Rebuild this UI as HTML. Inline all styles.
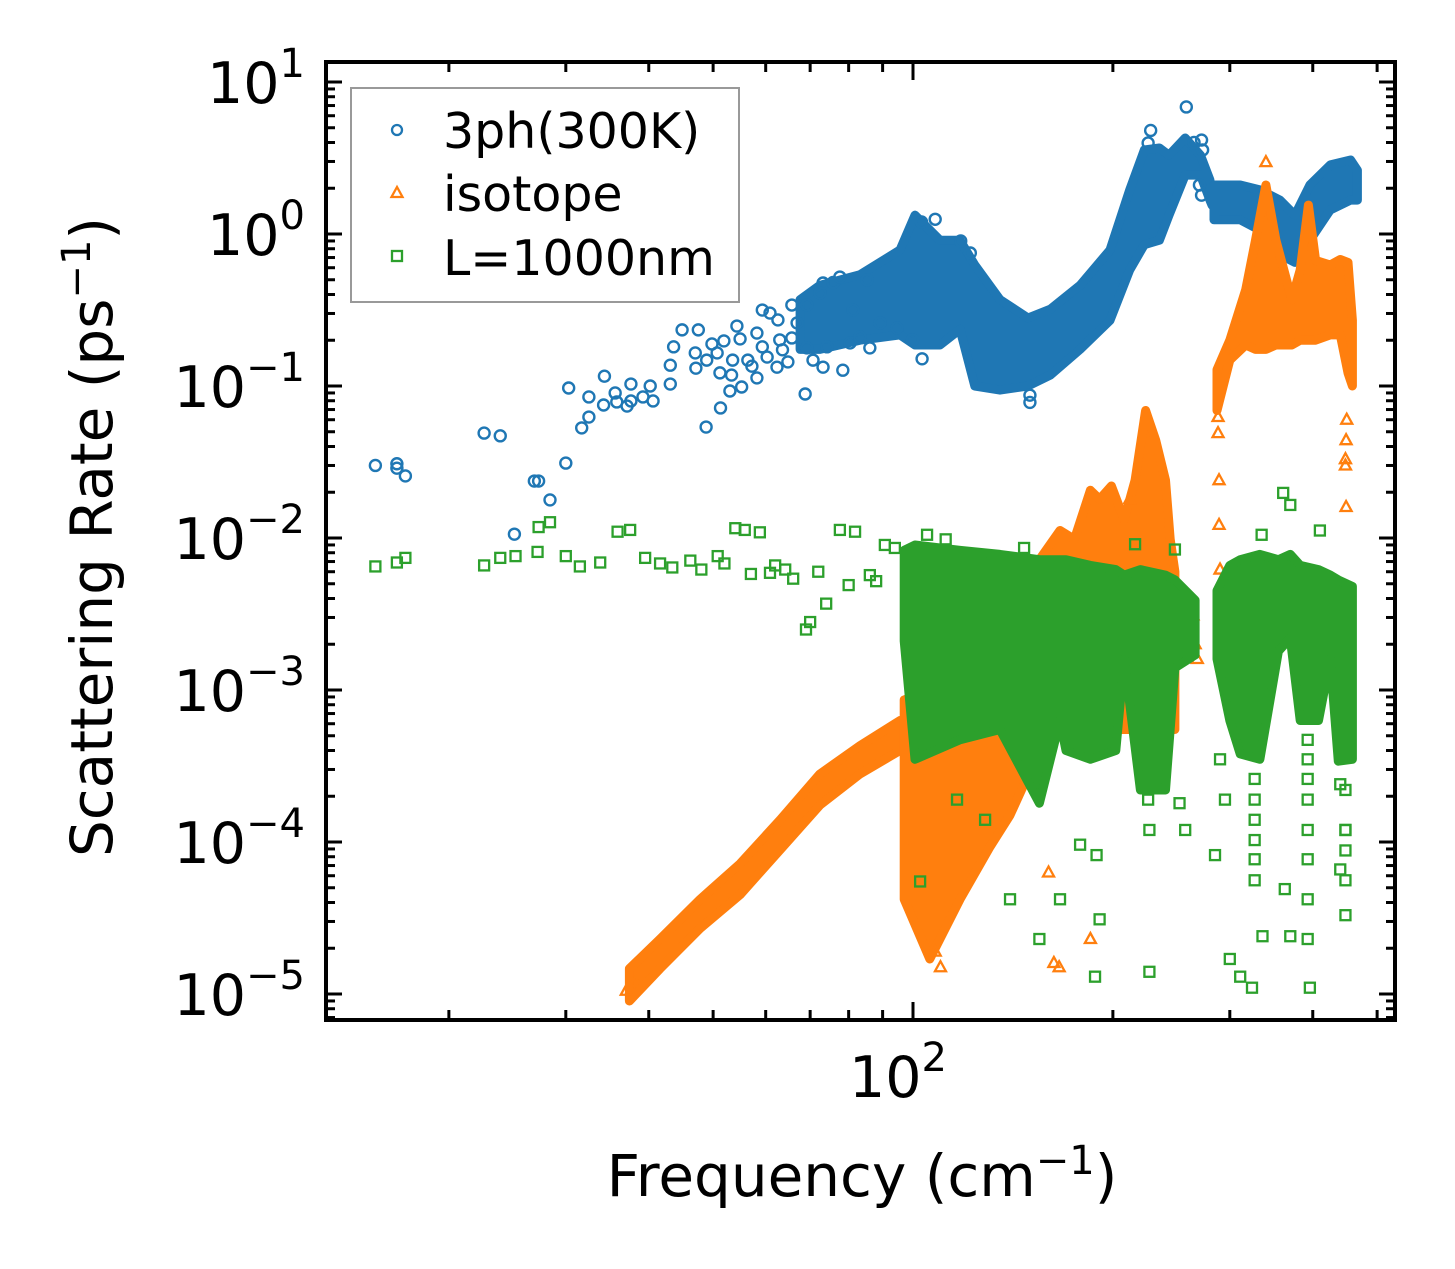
<!DOCTYPE html>
<html><head><meta charset="utf-8"><style>
html,body{margin:0;padding:0;background:#fff;}
svg{display:block;font-family:"DejaVu Sans","Liberation Sans",sans-serif;}
</style></head><body>
<svg id="chart" width="1455" height="1269" viewBox="0 0 1455 1269" xmlns="http://www.w3.org/2000/svg">
<defs><clipPath id="plotclip"><rect x="326" y="62" width="1069" height="958"/></clipPath></defs>
<rect width="1455" height="1269" fill="#fff"/>
<g id="data" clip-path="url(#plotclip)"></g>
<g id="axes"></g>
<g>
<rect x="351" y="88" width="388" height="214" fill="#fff" fill-opacity="0.85" stroke="#999" stroke-width="2"/>
<circle cx="397" cy="130" r="5" fill="none" stroke="#1f77b4" stroke-width="2.3"/>
<text x="443" y="148" font-size="49" fill="#000">3ph(300K)</text>
<polygon points="397,187 391.5,197 402.5,197" fill="none" stroke="#ff7f0e" stroke-width="2.3"/>
<text x="443" y="211" font-size="49" fill="#000">isotope</text>
<rect x="392" y="251" width="10" height="10" fill="none" stroke="#2ca02c" stroke-width="2.3"/>
<text x="443" y="275" font-size="49" fill="#000">L=1000nm</text>
</g>
<text transform="translate(112,537) rotate(-90)" text-anchor="middle" font-size="58" fill="#000">Scattering Rate (ps<tspan dy="-22" font-size="40">−1</tspan><tspan dy="22">)</tspan></text>
<text x="862" y="1196" text-anchor="middle" font-size="58" fill="#000">Frequency (cm<tspan dy="-22" font-size="40">−1</tspan><tspan dy="22">)</tspan></text>
</svg>
<script>
// ---------- data ----------
const blueFreq = [15.5,16.7,16.7,17.2,22.6,23.9,25.1,26.9,27.3,28.4,30.0,30.3,32.5,31.7,32.5,34.3,34.2,35.6,35.8,37.1,37.6,37.6,39.2,40.2,40.6,43.1,43.1,43.6,44.9,47.5,47.0,47.1,48.9,48.8,49.8,50.7,51.2,51.3,51.9,53.0,53.3,53.5,54.3,54.9,55.2,56.4,57.2,58.2,58.2,59.3,59.3,60.3,60.9,62.4,62.6,63.0,63.6,64.8,65.7,65.7,66.9,68.8,69.2,69.2,70.7,72.4,73.2,74.2,73.2,75.8,77.6,78.4,80.4,83.2,86.1,81.2,85.3,89.2,94.6,103.2,99.8,150,150,258,228,226,265,272,273,270,272,103,108,118,122];
const blueRate = [0.030,0.0308,0.0288,0.0256,0.049,0.047,0.0106,0.0237,0.0237,0.0178,0.0311,0.097,0.0847,0.053,0.0625,0.116,0.075,0.09,0.0785,0.0738,0.103,0.0797,0.0847,0.1,0.0797,0.103,0.137,0.181,0.234,0.234,0.165,0.131,0.148,0.0537,0.189,0.165,0.122,0.0717,0.198,0.0927,0.118,0.148,0.248,0.204,0.0985,0.148,0.135,0.223,0.113,0.316,0.181,0.155,0.302,0.133,0.272,0.201,0.173,0.144,0.341,0.207,0.26,0.0886,0.341,0.178,0.148,0.409,0.133,0.181,0.476,0.48,0.521,0.127,0.192,0.21,0.178,0.316,0.498,0.26,0.241,0.151,0.201,0.078,0.087,6.85,4.8,3.97,4.0,4.15,3.57,2.1,1.8,1.2,1.25,0.9,0.75];
const blueBand1Freq = [67.6,72.4,83.2,95.6,100.7,109.8,117.7,123.9,135.2,149,161,178.5,198,212,223,235,243,257,271,280,282];
const blueBand1Lo = [0.174,0.174,0.2,0.217,0.186,0.186,0.236,0.1,0.094,0.1,0.118,0.174,0.27,0.58,0.85,0.91,1.33,2.44,2.44,1.67,1.55];
const blueBand1Hi = [0.37,0.46,0.54,0.785,1.33,0.91,0.91,0.625,0.37,0.28,0.32,0.46,0.785,1.95,3.57,3.68,3.3,4.28,3.3,2.27,1.8];
const blueBand2Freq = [284,311,333,357,376,396,425,456,467];
const blueBand2Lo = [1.24,1.24,1.06,0.73,0.65,0.91,1.44,1.67,1.67];
const blueBand2Hi = [2.1,2.1,1.95,1.67,1.33,2.1,2.85,3.07,2.63];

const orangeFreq = [288,288,289,289,290,291,450,449,448,448,449,452,340,212,160,163,166,185,110,108,264,266,268,257,37.0,38.2];
const orangeRate = [0.0625,0.049,0.024,0.0122,0.0062,0.0028,0.06,0.044,0.033,0.03,0.016,0.0039,2.97,0.018,6.3e-5,1.6e-5,1.5e-5,2.3e-5,1.5e-5,1.9e-5,0.0031,0.0020,0.0016,0.0039,1.05e-5,1.2e-5];
const orangeBand1Freq = [37.4,41.6,47.8,54.9,63.1,72.4,83.2,95.6];
const orangeBand1Lo = [0.9e-5,1.47e-5,2.7e-5,4.5e-5,8.9e-5,1.75e-4,2.8e-4,4.0e-4];
const orangeBand1Hi = [1.47e-5,2.3e-5,4.2e-5,7.2e-5,1.4e-4,2.8e-4,4.3e-4,6.3e-4];
const orangeBand2Freq = [97,106,117.7,130.6,140,155,166.5,175,185,191,199,208,216,224,232,240,244,248];
const orangeBand2Lo = [4.2e-5,1.7e-5,4.2e-5,9.3e-5,1.5e-4,4.0e-4,5.5e-4,5.5e-4,5.5e-4,5.5e-4,5.5e-4,5.5e-4,5.5e-4,6.3e-4,8.6e-4,8.6e-4,6.3e-4,5.5e-4];
const orangeBand2Hi = [8.6e-4,1.0e-3,1.58e-3,2.1e-3,5.3e-3,7.2e-3,0.0112,0.0098,0.0206,0.0180,0.022,0.0132,0.024,0.069,0.044,0.024,0.0098,0.0060];
const orangeBand3Freq = [287,300,317,328,340,352,372,383,394,404,425,440,452,459];
const orangeBand3Lo = [0.069,0.148,0.186,0.174,0.174,0.186,0.186,0.2,0.2,0.2,0.217,0.217,0.122,0.1];
const orangeBand3Hi = [0.128,0.2,0.43,0.91,2.1,0.91,0.37,0.58,1.55,0.67,0.625,0.68,0.65,0.27];

const greenFreq = [15.5,16.7,17.2,22.6,23.9,25.2,27.2,27.3,28.4,30,31.5,33.8,35.9,37.5,39.5,41.6,43.4,46.2,50.8,54,55.8,58.8,60.9,64.2,69,70,74,77.6,81.8,86.1,90.7,93.9,48,52,57,62,66,72,80,88,
 102.5,116.5,128.4,140,155,166.5,178.5,189,191,188,227,226,227,285,300,311,324,336,363,370,396,440,448,361,370,248,216,147,290,295,440,448,252,257,
 327,327,327,327,327,327,393,393,393,393,393,393,393,393,448,448,448,448,335,410,105,112];
const greenRate = [0.0065,0.0069,0.0074,0.0066,0.0074,0.0076,0.0081,0.0118,0.0127,0.0076,0.0065,0.0069,0.011,0.0113,0.0074,0.0068,0.0064,0.0071,0.0076,0.0116,0.0113,0.0109,0.0059,0.0062,0.0025,0.0028,0.0037,0.0113,0.011,0.0057,0.0090,0.0086,0.0062,0.0068,0.0058,0.0066,0.0054,0.0060,0.0049,0.0052,
 5.5e-5,1.9e-4,1.4e-4,4.2e-5,2.3e-5,4.2e-5,9.6e-5,8.2e-5,3.1e-5,1.3e-5,1.4e-5,1.9e-4,1.2e-4,8.2e-5,1.7e-5,1.3e-5,1.1e-5,2.4e-5,4.9e-5,2.4e-5,1.1e-5,6.6e-5,3.3e-5,0.0198,0.0165,0.0084,0.0091,0.0086,3.5e-4,1.9e-4,2.4e-4,1.2e-4,1.8e-4,1.2e-4,
 2.6e-4,1.9e-4,1.4e-4,1.03e-4,7.7e-5,5.6e-5,4.7e-4,3.5e-4,2.6e-4,1.9e-4,1.2e-4,7.7e-5,4.2e-5,2.3e-5,2.2e-4,1.2e-4,8.8e-5,5.6e-5,0.0105,0.0112,0.0105,0.0098];
const greenBand1Freq = [97,100.7,117.7,135.2,155,166.5,170,185,202,208,220,240,248,266];
const greenBand1Lo = [0.0021,3.5e-4,4.7e-4,5.5e-4,1.8e-4,6.3e-4,4.0e-4,3.5e-4,4.0e-4,1.6e-3,2.2e-4,2.2e-4,1.4e-3,1.7e-3];
const greenBand1Hi = [0.0083,0.0090,0.0083,0.0078,0.0072,0.0072,0.0072,0.0066,0.0062,0.0057,0.0062,0.0057,0.0053,0.0039];
const greenBand2Freq = [287,300,311,333,355,370,383,408,425,437,459];
const greenBand2Lo = [1.6e-3,6.3e-4,3.8e-4,3.5e-4,1.8e-3,2.2e-3,6.3e-4,6.3e-4,1.6e-3,3.4e-4,3.5e-4];
const greenBand2Hi = [0.0045,0.0066,0.0072,0.0078,0.0072,0.0078,0.0066,0.0062,0.0057,0.0053,0.0048];

const yTickExps = [1,0,-1,-2,-3,-4,-5];
const xMinorTicks = [20,30,40,50,60,70,80,90,200,300,400,500];
const xMajorTicks = [100];

// ---------- axes ----------
const X0=326,X1=1395,Y0=62,Y1=1020;
function X(f){return 913+664*Math.log10(f/100);}
function Y(r){return 234-152*Math.log10(r);}
const NS="http://www.w3.org/2000/svg";
function mk(tag,attrs,parent){const e=document.createElementNS(NS,tag);for(const k in attrs)e.setAttribute(k,attrs[k]);parent.appendChild(e);return e;}
const data=document.getElementById('data'), axes=document.getElementById('axes');
const C={b:'#1f77b4',o:'#ff7f0e',g:'#2ca02c'};

function band(fr,lo,hi,col,name){
  const pts=[];
  for(let i=0;i<fr.length;i++)pts.push(X(fr[i]).toFixed(1)+','+Y(hi[i]).toFixed(1));
  for(let i=fr.length-1;i>=0;i--)pts.push(X(fr[i]).toFixed(1)+','+Y(lo[i]).toFixed(1));
  const p=mk('polygon',{points:pts.join(' '),fill:col,stroke:col,'stroke-width':9,'stroke-linejoin':'round'},data);
  
  
}
function circ(f,r,name){const e=mk('circle',{cx:X(f),cy:Y(r),r:5.5,fill:'none',stroke:C.b,'stroke-width':2.4},data);
  
  }
function tri(f,r,name){const x=X(f),y=Y(r);const e=mk('polygon',{points:`${x},${y-6} ${x-5.5},${y+4} ${x+5.5},${y+4}`,fill:'none',stroke:C.o,'stroke-width':2.3},data);
  
  }
function sq(f,r,name){const e=mk('rect',{x:X(f)-5,y:Y(r)-5,width:10,height:10,fill:'none',stroke:C.g,'stroke-width':2.3},data);
  
  }

band(blueBand1Freq,blueBand1Lo,blueBand1Hi,C.b,'3ph-dense-band-1');
band(blueBand2Freq,blueBand2Lo,blueBand2Hi,C.b,'3ph-dense-band-2');
for(let i=0;i<blueFreq.length;i++)circ(blueFreq[i],blueRate[i],'3ph-point');
band(orangeBand1Freq,orangeBand1Lo,orangeBand1Hi,C.o,'isotope-dense-band-1');
band(orangeBand2Freq,orangeBand2Lo,orangeBand2Hi,C.o,'isotope-dense-band-2');
band(orangeBand3Freq,orangeBand3Lo,orangeBand3Hi,C.o,'isotope-dense-band-3');
for(let i=0;i<orangeFreq.length;i++)tri(orangeFreq[i],orangeRate[i],'isotope-point');
band(greenBand1Freq,greenBand1Lo,greenBand1Hi,C.g,'boundary-dense-band-1');
band(greenBand2Freq,greenBand2Lo,greenBand2Hi,C.g,'boundary-dense-band-2');
for(let i=0;i<greenFreq.length;i++)sq(greenFreq[i],greenRate[i],'boundary-point');

const fr=mk('rect',{x:X0,y:Y0,width:X1-X0,height:Y1-Y0,fill:'none',stroke:'#000','stroke-width':4},axes);


function tick(x1,y1,x2,y2,w){mk('line',{x1,y1,x2,y2,stroke:'#000','stroke-width':w||3},axes);}
for(let k=-6;k<=1;k++){
  for(let m=1;m<=9;m++){
    const y=Y(m*Math.pow(10,k)); if(y<Y0||y>Y1)continue;
    const L=m===1?16:9;
    tick(X0,y,X0+L,y);tick(X1,y,X1-L,y);
  }
}
yTickExps.forEach(e=>{
  const t=mk('text',{x:305,y:Y(Math.pow(10,e))+21,'text-anchor':'end','font-size':57,fill:'#000'},axes);
  
  
  t.textContent='10';
  const s=mk('tspan',{dy:-26,'font-size':40},t);s.textContent=(e<0?'−':'')+Math.abs(e);
});
xMinorTicks.forEach(f=>{const x=X(f);tick(x,Y1,x,Y1-10);tick(x,Y0,x,Y0+10);});
xMajorTicks.forEach(f=>{const x=X(f);tick(x,Y1,x,Y1-18);tick(x,Y0,x,Y0+18);
  const t=mk('text',{x:x-15,y:1097,'text-anchor':'middle','font-size':57,fill:'#000'},axes);
  
  
  t.textContent='10';const s=mk('tspan',{dy:-26,'font-size':40},t);s.textContent='2';});
</script>
</body></html>
